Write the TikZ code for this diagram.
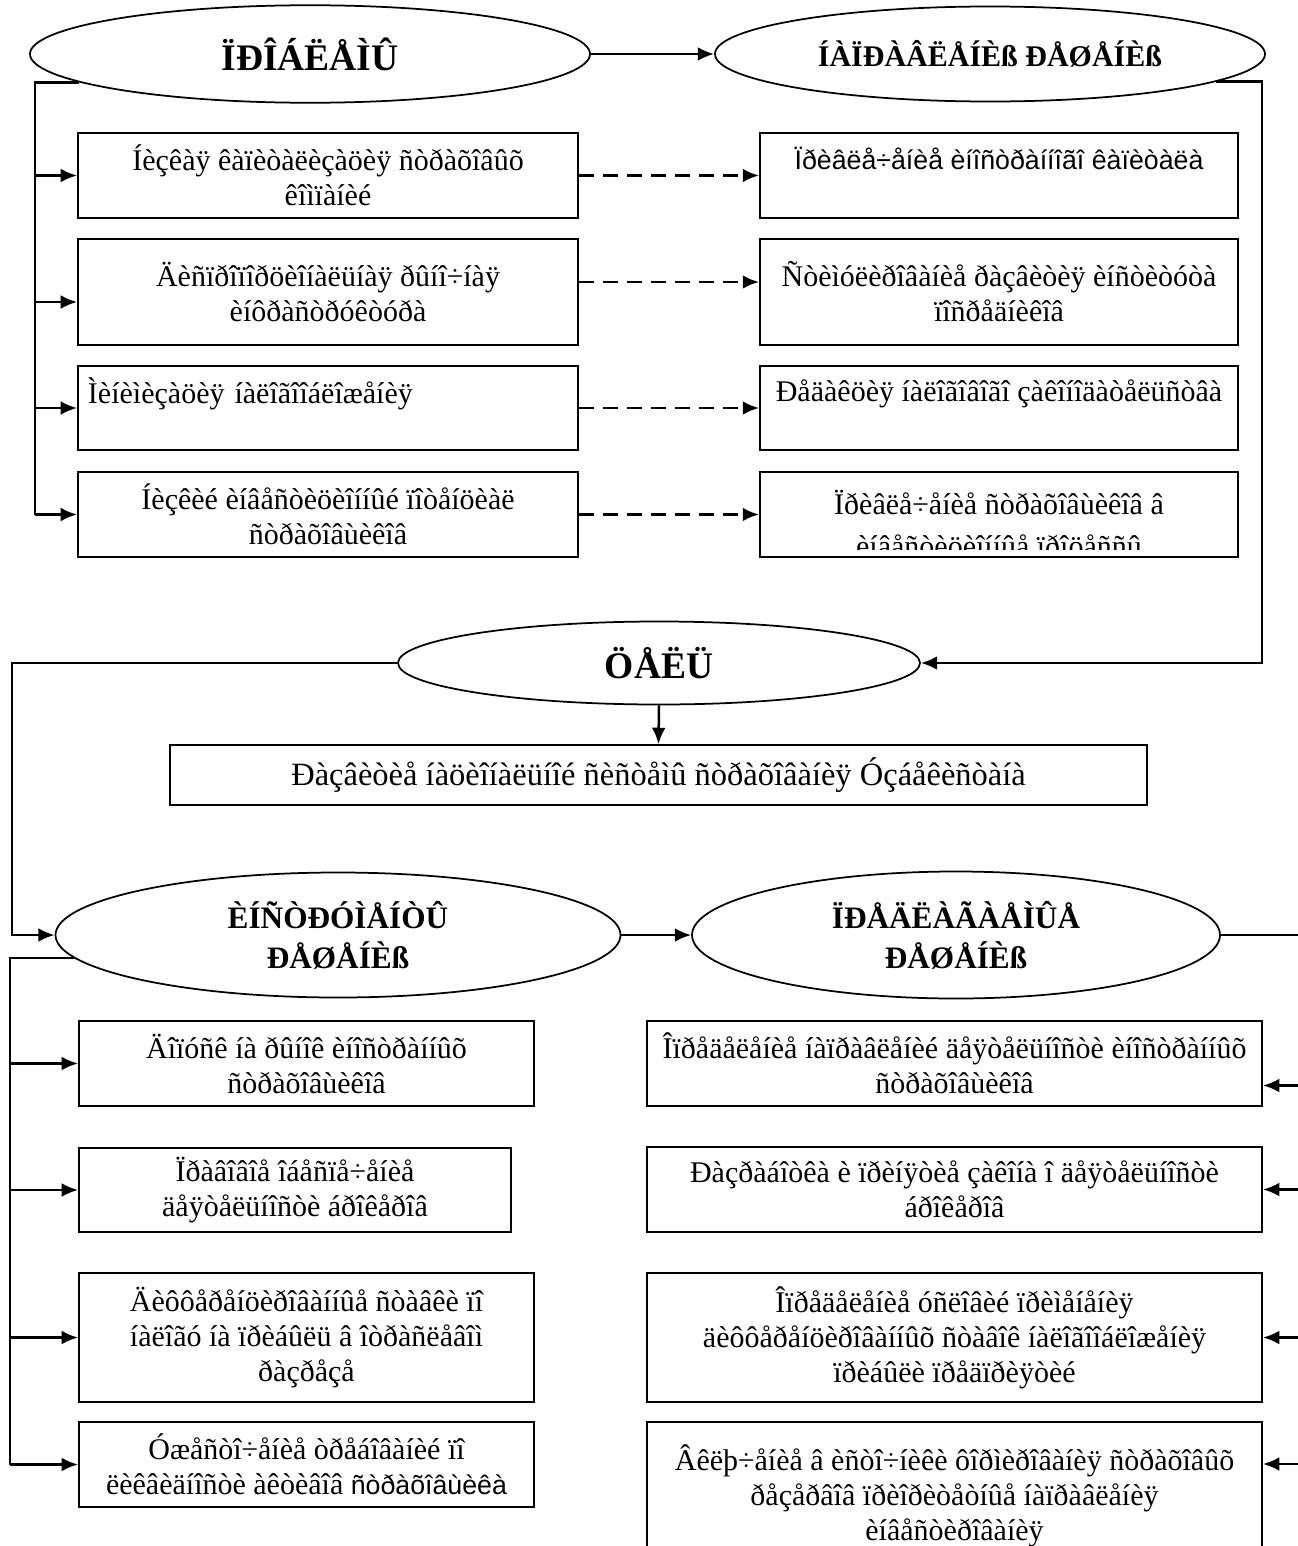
\documentclass[tikz,border=0pt]{standalone}
\usepackage{fontspec}
\setmainfont{Liberation Serif}
\newfontfamily\arialfont{Liberation Sans}
\usetikzlibrary{shapes.geometric, arrows.meta}

\begin{document}
\begin{tikzpicture}[x = 0.4pt, y = -0.4pt, > = {Latex[length = 6.5pt, width = 5.5pt]},
	oval/.style = {draw, ellipse, line width = 0.7pt, inner sep = 0pt, align = center, font = \fontsize{15}{17}\selectfont\bfseries},
	box/.style = {draw, rectangle, line width = 0.8pt, inner sep = 3pt, align = center, font = \fontsize{12}{14}\selectfont},
	link/.style = {line width = 1pt},
	hint/.style = {line width = 1.1pt, dash pattern = on 6pt off 3.6pt}]

	% Page frame
	
	\useasboundingbox (0, 0) rectangle (1298, 1546);
	
	% Problems + directions of solution
	
	\node [oval, minimum width = 224pt, minimum height = 39pt] (probl) at (310, 54) {ÏÐÎÁËÅÌÛ};
	\node [oval, minimum width = 220pt, minimum height = 38pt, font = \fontsize{12}{14}\selectfont\bfseries] (napr) at (990, 54) {ÍÀÏÐÀÂËÅÍÈß ÐÅØÅÍÈß};
	
	\draw [link, ->] (probl.east) -- (napr.west);
	
	\node [box, minimum width = 200pt, minimum height = 34pt] (b1) at (328, 175.5) {Íèçêàÿ êàïèòàëèçàöèÿ ñòðàõîâûõ\\êîìïàíèé};
	\node [box, minimum width = 200pt, minimum height = 42.4pt] (b2) at (328, 292) {Äèñïðîïîðöèîíàëüíàÿ ðûíî÷íàÿ\\èíôðàñòðóêòóðà};
	\node [box, minimum width = 200pt, minimum height = 33.6pt, align = left, text width = 192pt] (b3) at (328, 408) {Ìèíèìèçàöèÿ íàëîãîîáëîæåíèÿ\\\mbox{}};
	\node [box, minimum width = 200pt, minimum height = 34pt] (b4) at (328, 514.5) {Íèçêèé èíâåñòèöèîííûé ïîòåíöèàë\\ñòðàõîâùèêîâ};
	
	\node [box, minimum width = 191.2pt, minimum height = 34pt, font = \fontsize{10.7}{14}\arialfont] (r1) at (999, 175.5) {Ïðèâëå÷åíèå èíîñòðàííîãî êàïèòàëà\\\mbox{}};
	\node [box, minimum width = 191.2pt, minimum height = 42.4pt] (r2) at (999, 292) {Ñòèìóëèðîâàíèå ðàçâèòèÿ èíñòèòóòà\\ïîñðåäíèêîâ};
	\node [box, minimum width = 191.2pt, minimum height = 33.6pt] (r3) at (999, 408) {Ðåäàêöèÿ íàëîãîâîãî çàêîíîäàòåëüñòâà\\\mbox{}};
	\node [box, minimum width = 191.2pt, minimum height = 34pt] (r4) at (999, 514.5) {};
	
	\begin{scope}
		\clip ([yshift = 3.6pt]r4.south west) rectangle (r4.north east);
		\node [align = center, font = \fontsize{12}{17}\selectfont] (r4text) at (999, 523.5) {Ïðèâëå÷åíèå ñòðàõîâùèêîâ â\\èíâåñòèöèîííûå ïðîöåññû};
	\end{scope}
	
	\coordinate (pbus) at (35, 0);
	\draw [link] (probl.187) -| (pbus |- b4.west);
	\foreach \b in {b1, b3, b4}
		\draw [link, ->] (pbus |- \b.west) -- (\b.west);
	\coordinate (b2in) at ([yshift = -4pt]b2.west);
	\draw [link, ->] (pbus |- b2in) -- (b2in);
	
	\foreach \b/\r in {b1/r1, b3/r3, b4/r4}
		\draw [hint, ->] (\b.east) -- (\r.west);
	\draw [hint, ->] ([yshift = 4pt]b2.east) -- ([yshift = 4pt]r2.west);
	
	% Goal
	
	\node [oval, minimum width = 208.8pt, minimum height = 33.2pt] (cel) at (659, 663) {ÖÅËÜ};
	\node [box, minimum width = 390.8pt, minimum height = 24pt, font = \fontsize{13}{15}\selectfont] (goal) at (658.5, 775) {Ðàçâèòèå íàöèîíàëüíîé ñèñòåìû ñòðàõîâàíèÿ Óçáåêèñòàíà};
	
	\coordinate (rbus) at (1262, 0);
	\draw [link, ->] (napr.-7) -| (rbus |- cel.east) -- (cel.east);
	\draw [link, ->] (cel.south) -- (goal.north);
	
	% Instruments + proposed solutions
	
	\node [oval, minimum width = 226pt, minimum height = 50pt, font = \fontsize{12.5}{16}\selectfont\bfseries] (instr) at (338, 935) {ÈÍÑÒÐÓÌÅÍÒÛ\\ÐÅØÅÍÈß};
	\node [oval, minimum width = 211.2pt, minimum height = 50.8pt, font = \fontsize{12.5}{16}\selectfont\bfseries] (pred) at (956, 935) {ÏÐÅÄËÀÃÀÅÌÛÅ\\ÐÅØÅÍÈß};
	
	\coordinate (gbus) at (12, 0);
	\draw [link, ->] (cel.west) -| (gbus |- instr.west) -- (instr.west);
	\draw [link, ->] (instr.east) -- (pred.west);
	
	\node [box, minimum width = 182pt, minimum height = 34pt] (l1) at (306.5, 1063.5) {Äîïóñê íà ðûíîê èíîñòðàííûõ\\ñòðàõîâùèêîâ};
	\node [box, minimum width = 172.8pt, minimum height = 33.6pt] (l2) at (295, 1190) {Ïðàâîâîå îáåñïå÷åíèå\\äåÿòåëüíîñòè áðîêåðîâ};
	\node [box, minimum width = 182pt, minimum height = 51.6pt] (l3) at (306.5, 1337.5) {Äèôôåðåíöèðîâàííûå ñòàâêè ïî\\íàëîãó íà ïðèáûëü â îòðàñëåâîì\\ðàçðåçå};
	\node [box, minimum width = 182pt, minimum height = 34pt] (l4) at (306.5, 1464.5) {Óæåñòî÷åíèå òðåáîâàíèé ïî\\ëèêâèäíîñòè àêòèâîâ {\fontsize{10.7}{14}\arialfont ñòðàõîâùèêà}};
	
	\node [box, minimum width = 246pt, minimum height = 34pt] (r5) at (954.5, 1063.5) {Îïðåäåëåíèå íàïðàâëåíèé äåÿòåëüíîñòè èíîñòðàííûõ\\ñòðàõîâùèêîâ};
	\node [box, minimum width = 246pt, minimum height = 34pt] (r6) at (954.5, 1189.5) {Ðàçðàáîòêà è ïðèíÿòèå çàêîíà î äåÿòåëüíîñòè\\áðîêåðîâ};
	\node [box, minimum width = 246pt, minimum height = 51.6pt] (r7) at (954.5, 1337.5) {Îïðåäåëåíèå óñëîâèé ïðèìåíåíèÿ\\äèôôåðåíöèðîâàííûõ ñòàâîê íàëîãîîáëîæåíèÿ\\ïðèáûëè ïðåäïðèÿòèé};
	\node [box, minimum width = 246pt, minimum height = 59.2pt] (r8) at (954.5, 1496) {Âêëþ÷åíèå â èñòî÷íèêè ôîðìèðîâàíèÿ ñòðàõîâûõ\\ðåçåðâîâ ïðèîðèòåòíûå íàïðàâëåíèÿ\\èíâåñòèðîâàíèÿ};
	
	\coordinate (ibus) at (10, 0);
	\draw [link] (instr.185) -| (ibus |- l4.west);
	\foreach \l in {l1, l2, l3, l4}
		\draw [link, ->] (ibus |- \l.west) -- (\l.west);
	
	\coordinate (r5in) at ([yshift = -8.8pt]r5.east);
	\coordinate (r8in) at ([yshift = 12.8pt]r8.east);
	\coordinate (sbus) at (1299, 0);
	\draw [link] (pred.east) -| (sbus |- r8in);
	\foreach \r in {r5in, r6.east, r7.east, r8in}
		\draw [link, ->] (sbus |- \r) -- (\r);

\end{tikzpicture}
\end{document}
